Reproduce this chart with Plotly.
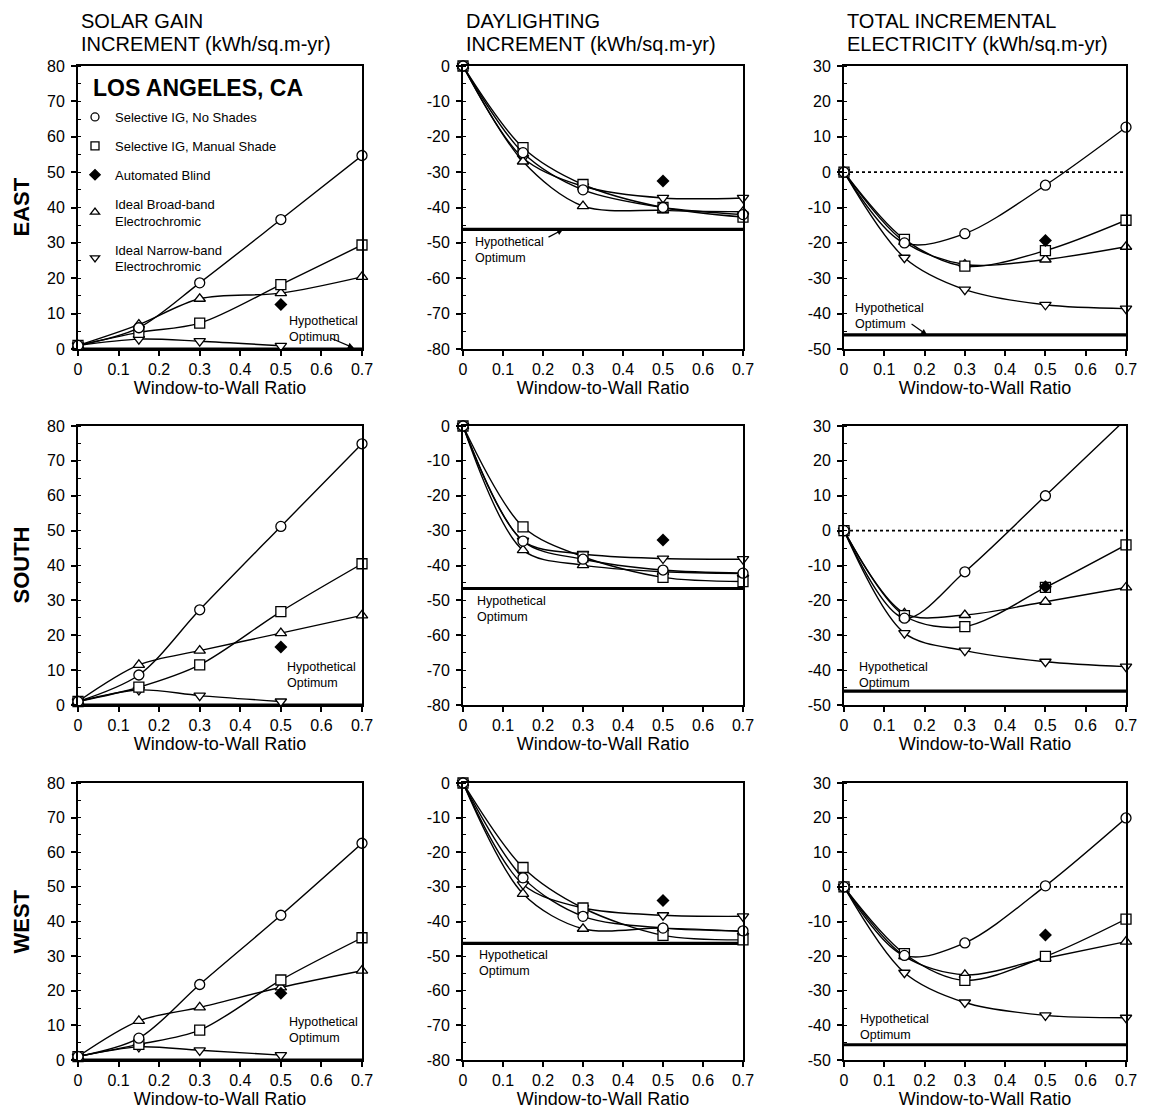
import plotly.graph_objects as go
from plotly.subplots import make_subplots

# ---------------- data ----------------
WWR = [0, 0.15, 0.3, 0.5, 0.7]
BLIND_WWR = [0.5]
X_TICKS = [0, 0.1, 0.2, 0.3, 0.4, 0.5, 0.6, 0.7]
X_TICK_LABELS = ["0", "0.1", "0.2", "0.3", "0.4", "0.5", "0.6", "0.7"]

ORIENTATIONS = ["EAST", "SOUTH", "WEST"]
COLUMN_TITLES = [
    ["SOLAR GAIN", "INCREMENT (kWh/sq.m-yr)"],
    ["DAYLIGHTING", "INCREMENT (kWh/sq.m-yr)"],
    ["TOTAL INCREMENTAL", "ELECTRICITY (kWh/sq.m-yr)"],
]
SERIES_NAMES = [
    "Selective IG, No Shades",
    "Selective IG, Manual Shade",
    "Automated Blind",
    "Ideal Broad-band<br>Electrochromic",
    "Ideal Narrow-band<br>Electrochromic",
]
CITY = "LOS ANGELES, CA"
X_TITLE = "Window-to-Wall Ratio"
OPT_LABEL = "Hypothetical<br>Optimum"

SOL_TICKS = [0, 10, 20, 30, 40, 50, 60, 70, 80]
DAY_TICKS = [0, -10, -20, -30, -40, -50, -60, -70, -80]
TOT_TICKS = [30, 20, 10, 0, -10, -20, -30, -40, -50]

# EAST
E_SOL_NOSHADE = [1, 6, 18.7, 36.6, 54.7]
E_SOL_MANUAL = [1, 4.7, 7.3, 18.2, 29.4]
E_SOL_BROAD = [1, 6.9, 14.2, 15.8, 20.4]
E_SOL_NARROW = [1, 2.8, 2.2, 0.9, None]
E_SOL_BLIND = [12.6]
E_SOL_OPT = [0, 0]

E_DAY_NOSHADE = [0, -24.5, -35, -40, -42]
E_DAY_MANUAL = [0, -23.1, -33.5, -40, -42.7]
E_DAY_BROAD = [0, -27, -39.6, -40.8, -41.2]
E_DAY_NARROW = [0, -26, -34, -37.3, -37.3]
E_DAY_BLIND = [-32.5]
E_DAY_OPT = [-46.2, -46.2]

E_TOT_NOSHADE = [0, -20, -17.4, -3.7, 12.7]
E_TOT_MANUAL = [0, -19, -26.6, -22.2, -13.6]
E_TOT_BROAD = [0, -19.7, -26.1, -24.7, -21.1]
E_TOT_NARROW = [0, -24.2, -33.2, -37.5, -38.6]
E_TOT_BLIND = [-19.3]
E_TOT_OPT = [-46, -46]

# SOUTH
S_SOL_NOSHADE = [1, 8.6, 27.3, 51.2, 74.9]
S_SOL_MANUAL = [1, 5.1, 11.5, 26.8, 40.5]
S_SOL_BROAD = [1, 11.5, 15.6, 20.6, 25.7]
S_SOL_NARROW = [1, 4.3, 2.7, 1.0, None]
S_SOL_BLIND = [16.6]
S_SOL_OPT = [0, 0]

S_DAY_NOSHADE = [0, -33, -38.2, -41.3, -42.2]
S_DAY_MANUAL = [0, -28.9, -37.5, -43.4, -44.6]
S_DAY_BROAD = [0, -35.6, -39.9, -41.8, -42.3]
S_DAY_NARROW = [0, -32.9, -36.7, -38, -38.2]
S_DAY_BLIND = [-32.7]
S_DAY_OPT = [-46.6, -46.6]

S_TOT_NOSHADE = [0, -25.1, -11.8, 10, 32]
S_TOT_MANUAL = [0, -24.4, -27.5, -16.3, -4.1]
S_TOT_BROAD = [0, -23.7, -24.2, -20.4, -16.3]
S_TOT_NARROW = [0, -29.4, -34.4, -37.6, -39]
S_TOT_BLIND = [-16.1]
S_TOT_OPT = [-46, -46]

# WEST
W_SOL_NOSHADE = [1, 6.3, 21.8, 41.8, 62.6]
W_SOL_MANUAL = [1, 4.5, 8.6, 23.1, 35.3]
W_SOL_BROAD = [1, 11.3, 15.2, 21, 25.8]
W_SOL_NARROW = [1, 3.8, 2.8, 1.4, None]
W_SOL_BLIND = [19.3]
W_SOL_OPT = [0, 0]

W_DAY_NOSHADE = [0, -27.4, -38.5, -41.9, -42.7]
W_DAY_MANUAL = [0, -24.4, -36.1, -44, -45.3]
W_DAY_BROAD = [0, -32, -42.1, -41.9, -42.9]
W_DAY_NARROW = [0, -29.3, -36.1, -38.2, -38.5]
W_DAY_BLIND = [-33.9]
W_DAY_OPT = [-46.3, -46.3]

W_TOT_NOSHADE = [0, -19.8, -16.2, 0.3, 19.9]
W_TOT_MANUAL = [0, -19.3, -27, -20.1, -9.3]
W_TOT_BROAD = [0, -20, -25.4, -20.6, -15.8]
W_TOT_NARROW = [0, -24.8, -33.4, -37.1, -37.8]
W_TOT_BLIND = [-13.9]
W_TOT_OPT = [-45.6, -45.6]

OPT_X = [0, 0.7]
ZERO_REF = [0, 0]

# ---------------- layout helpers ----------------
W, H = 1153, 1111
PAGE_OFFSET = 8  # default body margin of the html page
COL_PX = [(78, 362), (463, 743), (844, 1126)]
ROW_PX = [(66, 349), (426, 705), (783, 1060)]
Y_RANGES = [[0, 80], [-80, 0], [-50, 30]]
Y_TICKS = [SOL_TICKS, DAY_TICKS, TOT_TICKS]

panels = [
    [(E_SOL_NOSHADE, E_SOL_MANUAL, E_SOL_BROAD, E_SOL_NARROW, E_SOL_BLIND, E_SOL_OPT),
     (E_DAY_NOSHADE, E_DAY_MANUAL, E_DAY_BROAD, E_DAY_NARROW, E_DAY_BLIND, E_DAY_OPT),
     (E_TOT_NOSHADE, E_TOT_MANUAL, E_TOT_BROAD, E_TOT_NARROW, E_TOT_BLIND, E_TOT_OPT)],
    [(S_SOL_NOSHADE, S_SOL_MANUAL, S_SOL_BROAD, S_SOL_NARROW, S_SOL_BLIND, S_SOL_OPT),
     (S_DAY_NOSHADE, S_DAY_MANUAL, S_DAY_BROAD, S_DAY_NARROW, S_DAY_BLIND, S_DAY_OPT),
     (S_TOT_NOSHADE, S_TOT_MANUAL, S_TOT_BROAD, S_TOT_NARROW, S_TOT_BLIND, S_TOT_OPT)],
    [(W_SOL_NOSHADE, W_SOL_MANUAL, W_SOL_BROAD, W_SOL_NARROW, W_SOL_BLIND, W_SOL_OPT),
     (W_DAY_NOSHADE, W_DAY_MANUAL, W_DAY_BROAD, W_DAY_NARROW, W_DAY_BLIND, W_DAY_OPT),
     (W_TOT_NOSHADE, W_TOT_MANUAL, W_TOT_BROAD, W_TOT_NARROW, W_TOT_BLIND, W_TOT_OPT)],
]

OPT_TEXT_POS = {
    (0, 0): (0.515, 5.6), (0, 1): (0.025, -52), (0, 2): (0.022, -40.6),
    (1, 0): (0.51, 8.6), (1, 1): (0.03, -52.4), (1, 2): (0.032, -41.3),
    (2, 0): (0.515, 8.7), (2, 1): (0.035, -52), (2, 2): (0.035, -40.4),
}
OPT_ARROWS = {
    (0, 0): ((0.62, 3.2), (0.68, 0.3)),
    (0, 1): ((0.21, -48.6), (0.25, -46.2)),
    (0, 2): ((0.164, -42.6), (0.206, -46)),
}

FONT = "Liberation Sans, Arial, Helvetica, sans-serif"
SYMBOLS = ["circle", "square", "diamond", "triangle-up", "triangle-down"]


def tick_text(vals):
    return [str(v) for v in vals]


def px2fx(px):
    return (px - PAGE_OFFSET) / W


def py2fy(py):
    return 1 - (py - PAGE_OFFSET) / H


fig = make_subplots(rows=3, cols=3)

for r in range(3):
    for c in range(3):
        noshade, manual, broad, narrow, blind, opt = panels[r][c]
        ymin, ymax = Y_RANGES[c]
        fig.add_trace(go.Scatter(x=OPT_X, y=opt, mode="lines",
                                 line=dict(color="black", width=3.2),
                                 showlegend=False, hoverinfo="skip"), row=r + 1, col=c + 1)
        if c == 2:
            fig.add_trace(go.Scatter(x=OPT_X, y=ZERO_REF, mode="lines",
                                     line=dict(color="black", width=1.6, dash="dot"),
                                     showlegend=False, hoverinfo="skip"), row=r + 1, col=c + 1)
        for vals, sym in ((narrow, SYMBOLS[4]), (broad, SYMBOLS[3]),
                          (manual, SYMBOLS[1]), (noshade, SYMBOLS[0])):
            inside = all(ymin <= v <= ymax for v in vals if v is not None)
            fig.add_trace(go.Scatter(
                x=WWR, y=vals, mode="lines+markers",
                line=dict(color="black", width=1.4, shape="spline", smoothing=0.9),
                marker=dict(symbol=sym, size=10, color="white",
                            line=dict(color="black", width=1.3)),
                cliponaxis=not inside,
                showlegend=False, hoverinfo="skip"), row=r + 1, col=c + 1)
        fig.add_trace(go.Scatter(
            x=BLIND_WWR, y=blind, mode="markers",
            marker=dict(symbol="diamond", size=10, color="black"),
            showlegend=False, hoverinfo="skip"), row=r + 1, col=c + 1)

        idx = r * 3 + c + 1
        xa = "xaxis" if idx == 1 else f"xaxis{idx}"
        ya = "yaxis" if idx == 1 else f"yaxis{idx}"
        fig.layout[xa].update(
            domain=[px2fx(COL_PX[c][0]), px2fx(COL_PX[c][1])],
            range=[0, 0.7], tickvals=X_TICKS, ticktext=X_TICK_LABELS,
            ticks="outside", ticklen=5, tickwidth=1.5, tickcolor="black",
            showline=True, linewidth=2, linecolor="black", mirror=True,
            showgrid=False, zeroline=False, automargin=False,
            tickfont=dict(size=16, color="black"),
            title=dict(text=X_TITLE, font=dict(size=18, color="black"), standoff=0),
        )
        fig.layout[ya].update(
            domain=[py2fy(ROW_PX[r][1]), py2fy(ROW_PX[r][0])],
            range=Y_RANGES[c], tickvals=Y_TICKS[c], ticktext=tick_text(Y_TICKS[c]),
            ticks="outside", ticklen=5, tickwidth=1.5, tickcolor="black",
            ticklabelstandoff=3,
            minor=dict(dtick=5, ticks="inside", ticklen=3, tickcolor="black", tickwidth=1),
            showline=True, linewidth=2, linecolor="black", mirror=True,
            showgrid=False, zeroline=False, automargin=False,
            tickfont=dict(size=16, color="black"),
        )
        xref = "x" if idx == 1 else f"x{idx}"
        yref = "y" if idx == 1 else f"y{idx}"
        tx, ty = OPT_TEXT_POS[(r, c)]
        fig.add_annotation(x=tx, y=ty, xref=xref, yref=yref, text=OPT_LABEL,
                           showarrow=False, xanchor="left", yanchor="middle", align="left",
                           font=dict(size=12.5, color="black", family=FONT))
        if (r, c) in OPT_ARROWS:
            (ax_, ay_), (hx, hy) = OPT_ARROWS[(r, c)]
            fig.add_annotation(x=hx, y=hy, xref=xref, yref=yref, ax=ax_, ay=ay_,
                               axref=xref, ayref=yref, text="", showarrow=True,
                               arrowhead=2, arrowsize=1, arrowwidth=1.2, arrowcolor="black")

for i in range(5):
    sym = SYMBOLS[i]
    filled = sym == "diamond"
    fig.add_trace(go.Scatter(
        x=[None], y=[None], mode="markers", name=SERIES_NAMES[i],
        legendgroup=f"g{i}",
        marker=dict(symbol=sym, size=8,
                    color="black" if filled else "white",
                    line=dict(color="black", width=1.3)),
        showlegend=True), row=1, col=1)

for c, (l1, l2) in enumerate(COLUMN_TITLES):
    x0 = COL_PX[c][0] + 1
    for text, py in ((l1, 20.5), (l2, 43.5)):
        fig.add_annotation(x=px2fx(x0), y=py2fy(py), xref="paper", yref="paper",
                           text=text, showarrow=False, xanchor="left", yanchor="middle",
                           font=dict(size=20, color="black", family=FONT))

for r, name in enumerate(ORIENTATIONS):
    cy = (ROW_PX[r][0] + ROW_PX[r][1]) / 2
    fig.add_annotation(x=px2fx(21), y=py2fy(cy), xref="paper", yref="paper",
                       text=f"<b>{name}</b>", showarrow=False, textangle=-90,
                       xanchor="center", yanchor="middle",
                       font=dict(size=22, color="black", family=FONT))

fig.add_annotation(x=px2fx(91), y=py2fy(88), xref="paper", yref="paper",
                   text=f"<b>{CITY}</b>", showarrow=False, xanchor="left", yanchor="middle",
                   font=dict(size=23, color="black", family=FONT))

fig.update_layout(
    width=W, height=H,
    margin=dict(l=0, r=0, t=0, b=0, autoexpand=False),
    paper_bgcolor="white", plot_bgcolor="white",
    font=dict(family=FONT, color="black"),
    showlegend=True,
    legend=dict(x=px2fx(75), y=py2fy(102), xanchor="left", yanchor="top",
                bgcolor="rgba(0,0,0,0)", borderwidth=0,
                font=dict(size=13, color="black", family=FONT),
                tracegroupgap=9, itemsizing="trace"),
)

fig.write_html("out.html")
